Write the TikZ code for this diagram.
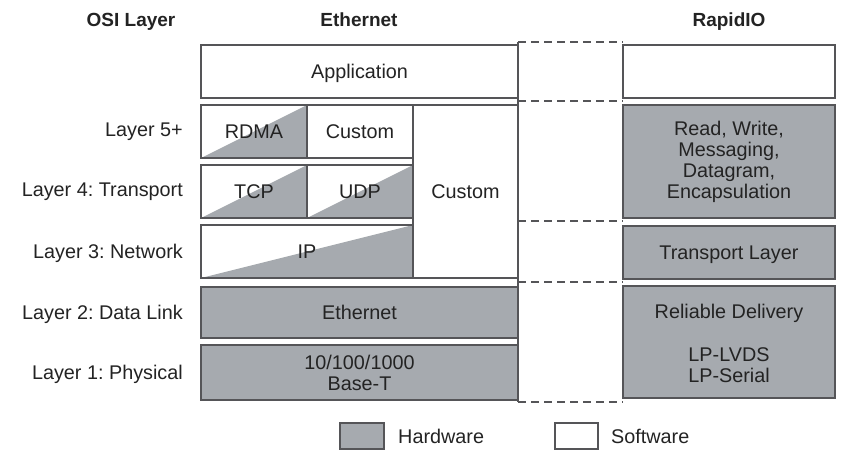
\documentclass[tikz,border=0pt]{standalone}
\usepackage{fontspec}
\setmainfont{Liberation Sans}
\frenchspacing
\definecolor{hwc}{RGB}{166,170,175}
\definecolor{edge}{RGB}{85,85,88}
\definecolor{txt}{RGB}{35,35,35}
\tikzset{
  lay/.style={draw=edge, line width=1.8pt, inner sep=0pt, font=\fontsize{19.8}{21}\selectfont, text=txt, align=center},
  one/.style={text depth=0pt},
  hw/.style={lay, fill=hwc},
  sw/.style={lay, fill=white},
  half/.style={lay, fill=white, path picture={\fill[hwc] (path picture bounding box.south west) -- (path picture bounding box.south east) -- (path picture bounding box.north east) -- cycle;}},
  lbl/.style={font=\fontsize{19.8}{21}\selectfont, text=txt, anchor=east, inner sep=0pt, text depth=0pt},
  hdr/.style={font=\bfseries\fontsize{19}{22}\selectfont, text=txt, inner sep=0pt, text depth=0pt},
  dsh/.style={draw=edge, line width=1.8pt, dash pattern=on 8pt off 5pt},
}
\newcommand{\bx}[7]{\node[#6, minimum width={(#4)-(#2)}, minimum height={(#5)-(#3)}] (#1) at ({((#2)+(#4))/2},{((#3)+(#5))/2}) {#7};}
\begin{document}
\begin{tikzpicture}[x=1pt,y=-1pt]
\useasboundingbox (0,0) rectangle (866,472);
% headers
\node[hdr] (hosi) at (131,20) {OSI Layer};
\node[hdr] (heth) at (359,20) {Ethernet};
\node[hdr] (hrio) at (729,20) {RapidIO};
% layer labels
\node[lbl] (l5) at (183,130) {Layer 5+};
\node[lbl] (l4) at (183,190) {Layer 4: Transport};
\node[lbl] (l3) at (183,251) {Layer 3: Network};
\node[lbl] (l2) at (183,312) {Layer 2: Data Link};
\node[lbl] (l1) at (183,372) {Layer 1: Physical};
% dashed connectors
\coordinate (d1a) at (518,42);  \coordinate (d1b) at (623,42);
\coordinate (d2a) at (518,101); \coordinate (d2b) at (623,101);
\coordinate (d3a) at (518,221); \coordinate (d3b) at (623,221);
\coordinate (d4a) at (518,282); \coordinate (d4b) at (623,282);
\coordinate (d5a) at (518,402); \coordinate (d5b) at (623,402);
\foreach \i in {1,...,5} {\draw[dsh] (d\i a) -- (d\i b);}
\draw[edge, line width=1.8pt] (d1a) -- (d5a);
% Ethernet stack
\bx{app}{201}{45}{518}{98}{sw,one}{Application}
\bx{rdma}{201}{105}{307}{158}{half,one}{RDMA}
\bx{cust1}{307}{105}{413}{158}{sw,one}{Custom}
\bx{cust2}{413}{105}{518}{278}{sw,one}{Custom}
\bx{tcp}{201}{165}{307}{218}{half,one}{TCP}
\bx{udp}{307}{165}{413}{218}{half,one}{UDP}
\bx{ip}{201}{225}{413}{278}{half,one}{IP}
\bx{eth}{201}{287}{518}{338}{hw,one}{Ethernet}
\bx{phy}{201}{345}{518}{400}{hw}{10/100/1000\\Base-T}
% RapidIO stack
\bx{rapp}{623}{45}{835}{98}{sw}{}
\bx{rlog}{623}{105}{835}{218}{hw}{Read, Write,\\Messaging,\\Datagram,\\Encapsulation}
\bx{rtrn}{623}{226}{835}{279}{hw,one}{Transport Layer}
\bx{rphy}{623}{286}{835}{398}{hw}{}
\node[font=\fontsize{19.8}{21}\selectfont, text=txt] (rel) at (729,313) {Reliable Delivery};
\node[font=\fontsize{19.8}{21}\selectfont, text=txt, align=center] (lvds) at (729,365) {LP-LVDS\\LP-Serial};
% legend
\bx{hwkey}{340}{423}{384}{449}{hw}{}
\node[font=\fontsize{19.8}{21}\selectfont, text=txt, anchor=west, inner sep=0pt] (hwt) at (398,436) {Hardware};
\bx{swkey}{555}{423}{598}{449}{sw}{}
\node[font=\fontsize{19.8}{21}\selectfont, text=txt, anchor=west, inner sep=0pt] (swt) at (611,436) {Software};
\end{tikzpicture}
\end{document}
